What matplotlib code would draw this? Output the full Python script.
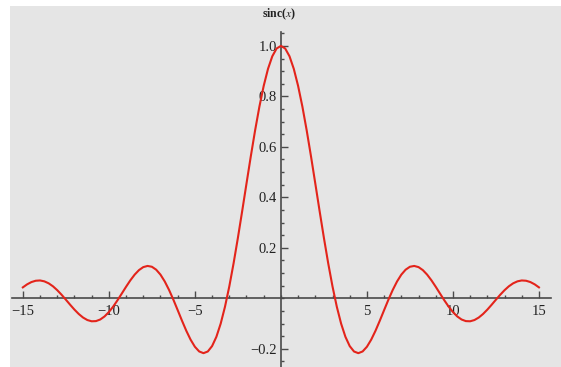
import matplotlib
matplotlib.use("Agg")
import matplotlib.pyplot as plt
from matplotlib.patches import Rectangle
from matplotlib.ticker import MultipleLocator, FixedLocator

x_vals = [-15.0, -14.75, -14.5, -14.25, -14.0, -13.75, -13.5, -13.25, -13.0, -12.75,
          -12.5, -12.25, -12.0, -11.75, -11.5, -11.25, -11.0, -10.75, -10.5, -10.25,
          -10.0, -9.75, -9.5, -9.25, -9.0, -8.75, -8.5, -8.25, -8.0, -7.75,
          -7.5, -7.25, -7.0, -6.75, -6.5, -6.25, -6.0, -5.75, -5.5, -5.25,
          -5.0, -4.75, -4.5, -4.25, -4.0, -3.75, -3.5, -3.25, -3.0, -2.75,
          -2.5, -2.25, -2.0, -1.75, -1.5, -1.25, -1.0, -0.75, -0.5, -0.25,
          0.0,
          0.25, 0.5, 0.75, 1.0, 1.25, 1.5, 1.75, 2.0, 2.25, 2.5,
          2.75, 3.0, 3.25, 3.5, 3.75, 4.0, 4.25, 4.5, 4.75, 5.0,
          5.25, 5.5, 5.75, 6.0, 6.25, 6.5, 6.75, 7.0, 7.25, 7.5,
          7.75, 8.0, 8.25, 8.5, 8.75, 9.0, 9.25, 9.5, 9.75, 10.0,
          10.25, 10.5, 10.75, 11.0, 11.25, 11.5, 11.75, 12.0, 12.25, 12.5,
          12.75, 13.0, 13.25, 13.5, 13.75, 14.0, 14.25, 14.5, 14.75, 15.0]
y_vals = [0.0434, 0.0555, 0.0645, 0.0697, 0.0708, 0.0673, 0.0595, 0.0477, 0.0323, 0.0143,
          -0.0053, -0.0254, -0.0447, -0.0620, -0.0761, -0.0860, -0.0909, -0.0902, -0.0838, -0.0717,
          -0.0544, -0.0328, -0.0079, 0.0188, 0.0458, 0.0714, 0.0939, 0.1118, 0.1237, 0.1283,
          0.1251, 0.1135, 0.0939, 0.0667, 0.0331, -0.0053, -0.0466, -0.0884, -0.1283, -0.1636,
          -0.1918, -0.2104, -0.2172, -0.2106, -0.1892, -0.1524, -0.1002, -0.0333, 0.0470, 0.1388,
          0.2394, 0.3458, 0.4546, 0.5623, 0.6650, 0.7592, 0.8415, 0.9089, 0.9589, 0.9896,
          1.0000,
          0.9896, 0.9589, 0.9089, 0.8415, 0.7592, 0.6650, 0.5623, 0.4546, 0.3458, 0.2394,
          0.1388, 0.0470, -0.0333, -0.1002, -0.1524, -0.1892, -0.2106, -0.2172, -0.2104, -0.1918,
          -0.1636, -0.1283, -0.0884, -0.0466, -0.0053, 0.0331, 0.0667, 0.0939, 0.1135, 0.1251,
          0.1283, 0.1237, 0.1118, 0.0939, 0.0714, 0.0458, 0.0188, -0.0079, -0.0328, -0.0544,
          -0.0717, -0.0838, -0.0902, -0.0909, -0.0860, -0.0761, -0.0620, -0.0447, -0.0254, -0.0053,
          0.0143, 0.0323, 0.0477, 0.0595, 0.0673, 0.0708, 0.0697, 0.0645, 0.0555, 0.0434]
x_ticks = [-15, -10, -5, 5, 10, 15]
x_ticklabels = ["\u221215", "\u221210", "\u22125", "5", "10", "15"]
y_ticks = [-0.2, 0.2, 0.4, 0.6, 0.8, 1.0]
y_ticklabels = ["\u22120.2", "0.2", "0.4", "0.6", "0.8", "1.0"]
y_label = r"sinc($\mathit{x}$)"

plt.rcParams["font.family"] = ["Liberation Serif", "DejaVu Serif"]
plt.rcParams["mathtext.fontset"] = "stix"

W, H = 561, 367
fig = plt.figure(figsize=(W / 100, H / 100), dpi=100)
fig.patch.set_facecolor("white")
fig.patches.append(Rectangle((10 / W, 0), 1, 1 - 6 / H, transform=fig.transFigure,
                             facecolor="#e5e5e5", edgecolor="none", zorder=-10))

ax = fig.add_axes([12 / W, 0, 539 / W, 1 - 32 / H])
ax.set_facecolor("none")
ax.set_zorder(1)
ax.set_xlim(-15.63, 15.70)
ax.set_ylim(-0.272, 1.055)

axis_color = "#4a4a4a"
for s in ["top", "right"]:
    ax.spines[s].set_visible(False)
ax.spines["left"].set_position(("data", 0))
ax.spines["bottom"].set_position(("data", 0))
for s in ["left", "bottom"]:
    ax.spines[s].set_color(axis_color)
    ax.spines[s].set_linewidth(1.2)
    ax.spines[s].set_zorder(2)

ax.plot(x_vals, y_vals, color="#e3241b", linewidth=1.5, zorder=3)

ax.xaxis.set_major_locator(FixedLocator(x_ticks))
ax.set_xticklabels(x_ticklabels)
ax.xaxis.set_minor_locator(MultipleLocator(1))
ax.yaxis.set_major_locator(FixedLocator(y_ticks))
ax.set_yticklabels(y_ticklabels)
ax.yaxis.set_minor_locator(MultipleLocator(0.05))

ax.tick_params(axis="both", which="major", direction="in", length=5, width=1.0,
               color=axis_color, labelsize=10.5, labelcolor="#222222")
ax.tick_params(axis="both", which="minor", direction="in", length=2.5, width=1.0,
               color=axis_color)
ax.tick_params(axis="x", which="major", pad=5)
ax.tick_params(axis="y", which="major", pad=3)

fig.text(279 / W, 1 - 14 / H, y_label, ha="center", va="center", fontsize=8.5,
         color="#222222", fontweight="bold", zorder=5)

fig.savefig("out.png", dpi=100)
